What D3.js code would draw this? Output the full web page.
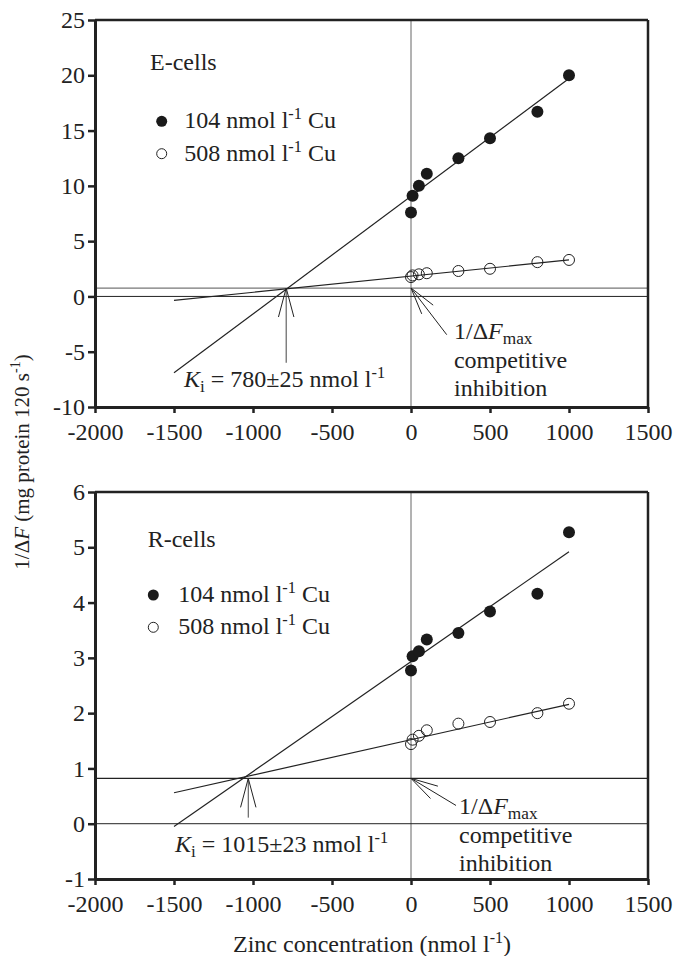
<!DOCTYPE html>
<html>
<head>
<meta charset="utf-8">
<script src="https://cdn.jsdelivr.net/npm/d3@7"></script>
<style>
  body { margin: 0; background: #fff; }
  text { font-family: "Liberation Serif", "Times New Roman", serif; fill: #222; }
</style>
</head>
<body>
<div id="chart"></div>
<script>
// DATA
let ZINC = [0, 10, 50, 100, 300, 500, 800, 1000]
let E_CU104 = [7.6, 9.1, 10.0, 11.1, 12.5, 14.3, 16.7, 20.0]
let E_CU508 = [1.75, 1.9, 2.0, 2.1, 2.3, 2.5, 3.1, 3.3]
let R_CU104 = [2.77, 3.03, 3.12, 3.33, 3.45, 3.84, 4.16, 5.27]
let R_CU508 = [1.44, 1.52, 1.59, 1.69, 1.81, 1.84, 2.0, 2.17]

// fitted lines, ends at x = -1500 and 1000
let FIT_X = [-1500, 1000]
let E_FIT104 = [-6.9, 19.7]
let E_FIT508 = [-0.36, 3.3]
let R_FIT104 = [-0.05, 4.92]
let R_FIT508 = [0.56, 2.16]

let X_TICKS = [-2000, -1500, -1000, -500, 0, 500, 1000, 1500]
let E_Y_TICKS = [-10, -5, 0, 5, 10, 15, 20, 25]
let R_Y_TICKS = [-1, 0, 1, 2, 3, 4, 5, 6]

// annotations: [x, y] in data units
let E_KI = [-790, 0.76]      // intersection
let R_KI = [-1030, 0.82]
let E_FMAX = 0.76
let R_FMAX = 0.82

let FONT = 24
let width = 675, height = 956
let plotW = 553, plotH = 387

let svg = d3.select("#chart").append("svg")
    .attr("width", width)
    .attr("height", height)

function addLabel(g, x, y, parts, size) {
    // parts: [text, style] where style is "", "i", "sub", "sup"
    let t = g.append("text").attr("x", x).attr("y", y).style("font-size", size + "px")
    let shift = 0
    parts.forEach(function (p) {
        let s = t.append("tspan").text(p[0])
        if (p[1] == "i") s.style("font-style", "italic")
        let dy = 0
        if (p[1] == "sub") { s.style("font-size", (size * 0.72) + "px"); dy = 5 }
        if (p[1] == "sup") { s.style("font-size", (size * 0.68) + "px"); dy = -9 }
        if (dy - shift != 0) s.attr("dy", dy - shift)
        shift = dy
    })
    return t
}

function arrowHead(g, tx, ty, angle, len) {
    // two arms opening from the tip
    [-0.26, 0.26].forEach(function (da) {
        g.append("line")
            .attr("x1", tx).attr("y1", ty)
            .attr("x2", tx + len * Math.cos(angle + da))
            .attr("y2", ty + len * Math.sin(angle + da))
            .attr("stroke", "#222").attr("stroke-width", 1)
    })
}

function drawPanel(cfg) {
    let g = svg.append("g").attr("transform", "translate(95," + cfg.top + ")")

    let x = d3.scaleLinear().domain([-2000, 1500]).range([0, plotW])
    let y = d3.scaleLinear().domain(cfg.yDomain).range([plotH, 0])

    // reference lines
    g.append("line")
        .attr("x1", x(0)).attr("x2", x(0)).attr("y1", 0).attr("y2", plotH)
        .attr("stroke", "#666").attr("stroke-width", 1)
    g.append("line")
        .attr("x1", 0).attr("x2", plotW).attr("y1", y(0)).attr("y2", y(0))
        .attr("stroke", "#222").attr("stroke-width", 1)
    g.append("line")
        .attr("x1", 0).attr("x2", plotW).attr("y1", y(cfg.fmax)).attr("y2", y(cfg.fmax))
        .attr("stroke", cfg.fmaxColor).attr("stroke-width", 1.2)

    // fitted lines
    let line = d3.line().x(function (d) { return x(d[0]) }).y(function (d) { return y(d[1]) })
    ;[cfg.fit104, cfg.fit508].forEach(function (f) {
        g.append("path")
            .attr("d", line(FIT_X.map(function (v, i) { return [v, f[i]] })))
            .attr("fill", "none").attr("stroke", "#222").attr("stroke-width", 1.2)
    })

    // points
    g.selectAll("openDots").data(ZINC.map(function (z, i) { return [z, cfg.cu508[i]] }))
        .enter().append("circle")
        .attr("cx", function (d) { return x(d[0]) })
        .attr("cy", function (d) { return y(d[1]) })
        .attr("r", 5.5)
        .attr("fill", "none")
        .attr("stroke", "#222").attr("stroke-width", 1)
    g.selectAll("filledDots").data(ZINC.map(function (z, i) { return [z, cfg.cu104[i]] }))
        .enter().append("circle")
        .attr("cx", function (d) { return x(d[0]) })
        .attr("cy", function (d) { return y(d[1]) })
        .attr("r", 6)
        .attr("fill", "#1a1a1a")

    // frame
    g.append("line").attr("x1", 0).attr("x2", plotW).attr("y1", 0).attr("y2", 0)
        .attr("stroke", "#222").attr("stroke-width", 2.5)
    g.append("line").attr("x1", plotW).attr("x2", plotW).attr("y1", 0).attr("y2", plotH)
        .attr("stroke", "#222").attr("stroke-width", 2.5)

    // axes
    let fmt = function (d) { return String(d) }
    let xAxis = g.append("g")
        .attr("transform", "translate(0," + plotH + ")")
        .call(d3.axisBottom(x).tickValues(X_TICKS).tickFormat(fmt).tickSize(6).tickPadding(10).tickSizeOuter(0))
    let yAxis = g.append("g")
        .call(d3.axisLeft(y).tickValues(cfg.yTicks).tickFormat(fmt).tickSize(7).tickPadding(3).tickSizeOuter(0))
    ;[xAxis, yAxis].forEach(function (a) {
        a.select(".domain").attr("stroke", "#222").attr("stroke-width", 3)
        a.selectAll(".tick line").attr("stroke", "#222").attr("stroke-width", 2.5)
        a.selectAll(".tick text")
            .style("font-family", "'Liberation Serif', 'Times New Roman', serif")
            .style("font-size", FONT + "px").attr("fill", "#222")
    })

    // legend
    let lg = cfg.legend
    g.append("text").attr("x", lg.titleX).attr("y", lg.titleY)
        .style("font-size", FONT + "px").text(cfg.title)
    g.append("circle").attr("cx", lg.dotX).attr("cy", lg.row1 - 7).attr("r", 5.5).attr("fill", "#1a1a1a")
    g.append("circle").attr("cx", lg.dotX).attr("cy", lg.row2 - 7).attr("r", 5)
        .attr("fill", "white").attr("stroke", "#222").attr("stroke-width", 1)
    addLabel(g, lg.textX, lg.row1, [["104 nmol l", ""], ["-1", "sup"], [" Cu", ""]], FONT)
    addLabel(g, lg.textX, lg.row2, [["508 nmol l", ""], ["-1", "sup"], [" Cu", ""]], FONT)

    // Ki arrow (vertical, up to the intersection)
    let kx = x(cfg.ki[0]), ky = y(cfg.ki[1])
    g.append("line").attr("x1", kx).attr("x2", kx).attr("y1", ky).attr("y2", y(cfg.kiTail))
        .attr("stroke", "#444").attr("stroke-width", 1)
    arrowHead(g, kx, ky, Math.PI / 2, 30)
    addLabel(g, x(cfg.kiText[0]), y(cfg.kiText[1]),
        [["K", "i"], ["i", "sub"], [" = " + cfg.kiValue + " nmol l", ""], ["-1", "sup"]], FONT)

    // 1/dFmax arrow (diagonal, from the label to the y-intercept)
    let fx = x(0), fy = y(cfg.fmax)
    let tx = x(cfg.fmaxTail[0]), ty = y(cfg.fmaxTail[1])
    g.append("line").attr("x1", fx).attr("y1", fy).attr("x2", tx).attr("y2", ty)
        .attr("stroke", "#222").attr("stroke-width", 1)
    arrowHead(g, fx, fy, Math.atan2(ty - fy, tx - fx), 28)
    let lx = x(cfg.fmaxText[0]), ly = y(cfg.fmaxText[1])
    addLabel(g, lx, ly, [["1/Δ", ""], ["F", "i"], ["max", "sub"]], FONT)
    g.append("text").attr("x", lx).attr("y", ly + 29).style("font-size", FONT + "px").text("competitive")
    g.append("text").attr("x", lx).attr("y", ly + 57).style("font-size", FONT + "px").text("inhibition")
}

drawPanel({
    top: 20, yDomain: [-10, 25], yTicks: E_Y_TICKS, title: "E-cells",
    cu104: E_CU104, cu508: E_CU508, fit104: E_FIT104, fit508: E_FIT508,
    fmax: E_FMAX, fmaxColor: "#777",
    ki: E_KI, kiTail: -6.0, kiText: [-1437, -8.2], kiValue: "780±25",
    fmaxTail: [226, -3.46], fmaxText: [272, -3.85],
    legend: { titleX: 55, titleY: 50, dotX: 66.7, textX: 89.3, row1: 108.3, row2: 140.7 }
})

drawPanel({
    top: 492, yDomain: [-1, 6], yTicks: R_Y_TICKS, title: "R-cells",
    cu104: R_CU104, cu508: R_CU508, fit104: R_FIT104, fit508: R_FIT508,
    fmax: R_FMAX, fmaxColor: "#222",
    ki: R_KI, kiTail: 0.11, kiText: [-1494, -0.52], kiValue: "1015±23",
    fmaxTail: [285, 0.33], fmaxText: [304, 0.18],
    legend: { titleX: 52.7, titleY: 54.7, dotX: 58.3, textX: 83.3, row1: 110, row2: 142.3 }
})

// axis titles
let yt = svg.append("g").attr("transform", "translate(29,462) rotate(-90)")
let ytt = yt.append("text").attr("text-anchor", "middle").style("font-size", "21px")
ytt.append("tspan").text("1/Δ")
ytt.append("tspan").text("F").style("font-style", "italic")
ytt.append("tspan").text(" (mg protein 120 s")
ytt.append("tspan").text("-1").style("font-size", "14px").attr("dy", -9)
ytt.append("tspan").text(")").attr("dy", 9)

let xt = svg.append("text").attr("x", 372).attr("y", 952).attr("text-anchor", "middle").style("font-size", FONT + "px")
xt.append("tspan").text("Zinc concentration (nmol l")
xt.append("tspan").text("-1").style("font-size", "16px").attr("dy", -9)
xt.append("tspan").text(")").attr("dy", 9)
</script>
</body>
</html>
